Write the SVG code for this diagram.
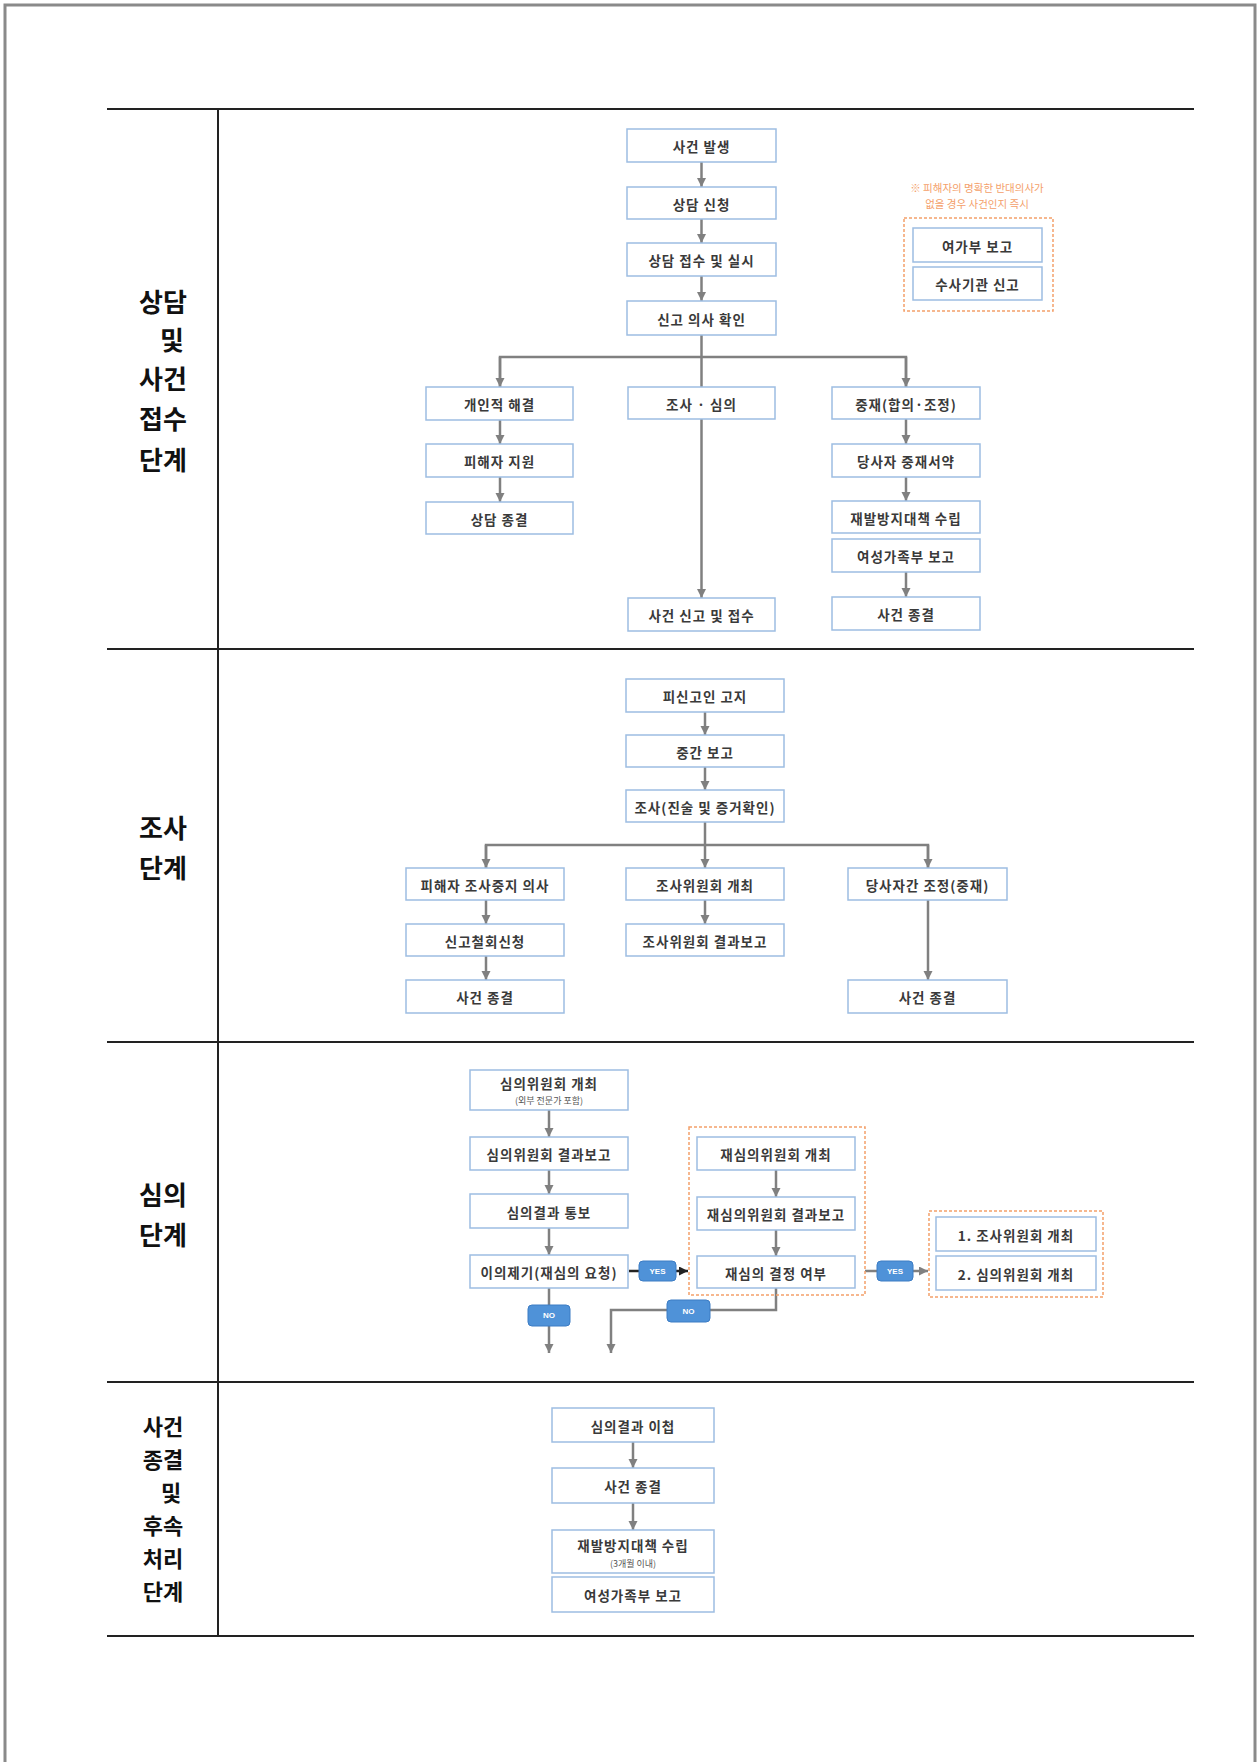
<svg xmlns="http://www.w3.org/2000/svg" width="1259" height="1762" viewBox="0 0 1259 1762">
<style>
.box{fill:#fff;stroke:#9dbde2;stroke-width:1.5}
.t{font-family:"Noto Sans CJK KR","Noto Sans",sans-serif;font-size:13.5px;font-weight:bold;fill:#3a3a3a;text-anchor:middle;dominant-baseline:central;letter-spacing:1px}
.ts{font-family:"Noto Sans CJK KR","Noto Sans",sans-serif;font-size:9px;fill:#555;text-anchor:middle;dominant-baseline:central}
.c{stroke:#808080;stroke-width:2.5;fill:none}
.ck{stroke:#222;stroke-width:2.5;fill:none}
.tbl{stroke:#222;stroke-width:2;fill:none}
.lbl{font-family:"Noto Sans CJK KR",serif;font-size:26px;font-weight:bold;fill:#111;text-anchor:middle;dominant-baseline:central}
.lbl2{font-family:"Noto Sans CJK KR",serif;font-size:22px;font-weight:bold;fill:#111;text-anchor:middle;dominant-baseline:central}
.org{fill:none;stroke:#f4a06a;stroke-width:1.5;stroke-dasharray:3 2}
.note{font-family:"Noto Sans CJK KR",sans-serif;font-size:10.5px;fill:#f4a06a;text-anchor:middle;dominant-baseline:central}
.badge{fill:#4f92d8;stroke:#3c7cc4;stroke-width:1}
.bt{font-family:"Liberation Sans",sans-serif;font-size:8px;font-weight:bold;fill:#fff;text-anchor:middle;dominant-baseline:central}
</style>
<defs>
<marker id="ah" markerUnits="userSpaceOnUse" markerWidth="10" markerHeight="10" refX="9" refY="4.5" orient="auto"><path d="M0,0 L9,4.5 L0,9 z" fill="#808080"/></marker>
<marker id="ahk" markerUnits="userSpaceOnUse" markerWidth="10" markerHeight="10" refX="9" refY="4.5" orient="auto"><path d="M0,0 L9,4.5 L0,9 z" fill="#222"/></marker>
</defs>
<rect x="5" y="5" width="1250" height="1770" fill="#fff" stroke="#8a8a8a" stroke-width="3"/>

<g id="table">
<line class="tbl" x1="107" y1="109" x2="1194" y2="109"/>
<line class="tbl" x1="107" y1="649" x2="1194" y2="649"/>
<line class="tbl" x1="107" y1="1042" x2="1194" y2="1042"/>
<line class="tbl" x1="107" y1="1382" x2="1194" y2="1382"/>
<line class="tbl" x1="107" y1="1636" x2="1194" y2="1636"/>
<line class="tbl" x1="218" y1="109" x2="218" y2="1636"/>
</g>

<g id="labels">
<text class="lbl" x="163" y="300">상담</text>
<text class="lbl" x="172" y="338">및</text>
<text class="lbl" x="163" y="377">사건</text>
<text class="lbl" x="163" y="417">접수</text>
<text class="lbl" x="163" y="458">단계</text>
<text class="lbl" x="163" y="826">조사</text>
<text class="lbl" x="163" y="866">단계</text>
<text class="lbl" x="163" y="1193">심의</text>
<text class="lbl" x="163" y="1233">단계</text>
<text class="lbl2" x="163" y="1425">사건</text>
<text class="lbl2" x="163" y="1458">종결</text>
<text class="lbl2" x="171" y="1491">및</text>
<text class="lbl2" x="163" y="1524">후속</text>
<text class="lbl2" x="163" y="1557">처리</text>
<text class="lbl2" x="163" y="1590">단계</text>
</g>

<g id="connectors">
<line class="c" x1="701.5" y1="162" x2="701.5" y2="187" marker-end="url(#ah)"/>
<line class="c" x1="701.5" y1="219" x2="701.5" y2="243" marker-end="url(#ah)"/>
<line class="c" x1="701.5" y1="276" x2="701.5" y2="301" marker-end="url(#ah)"/>
<line class="c" x1="701.5" y1="335" x2="701.5" y2="357"/>
<path class="c" d="M500,387 V357 H906 V387" stroke-linejoin="miter"/>
<line class="c" x1="500" y1="357" x2="500" y2="387" marker-end="url(#ah)"/>
<line class="c" x1="906" y1="357" x2="906" y2="387" marker-end="url(#ah)"/>
<line class="c" x1="500" y1="420" x2="500" y2="444" marker-end="url(#ah)"/>
<line class="c" x1="500" y1="477" x2="500" y2="502" marker-end="url(#ah)"/>
<line class="c" x1="701.5" y1="357" x2="701.5" y2="598" marker-end="url(#ah)"/>
<line class="c" x1="906" y1="419" x2="906" y2="444" marker-end="url(#ah)"/>
<line class="c" x1="906" y1="477" x2="906" y2="501" marker-end="url(#ah)"/>
<line class="c" x1="906" y1="572" x2="906" y2="597" marker-end="url(#ah)"/>

<line class="c" x1="705" y1="712" x2="705" y2="735" marker-end="url(#ah)"/>
<line class="c" x1="705" y1="767" x2="705" y2="790" marker-end="url(#ah)"/>
<line class="c" x1="705" y1="822" x2="705" y2="868" marker-end="url(#ah)"/>
<path class="c" d="M486,868 V845 H928 V868"/>
<line class="c" x1="486" y1="845" x2="486" y2="868" marker-end="url(#ah)"/>
<line class="c" x1="928" y1="845" x2="928" y2="868" marker-end="url(#ah)"/>
<line class="c" x1="486" y1="900" x2="486" y2="924" marker-end="url(#ah)"/>
<line class="c" x1="486" y1="956" x2="486" y2="980" marker-end="url(#ah)"/>
<line class="c" x1="705" y1="900" x2="705" y2="924" marker-end="url(#ah)"/>
<line class="c" x1="928" y1="900" x2="928" y2="980" marker-end="url(#ah)"/>

<line class="c" x1="549" y1="1110" x2="549" y2="1137" marker-end="url(#ah)"/>
<line class="c" x1="549" y1="1170" x2="549" y2="1194" marker-end="url(#ah)"/>
<line class="c" x1="549" y1="1228" x2="549" y2="1255" marker-end="url(#ah)"/>
<line class="c" x1="549" y1="1288" x2="549" y2="1353" marker-end="url(#ah)"/>
<line class="ck" x1="629" y1="1271" x2="688" y2="1271" marker-end="url(#ahk)"/>
<line class="c" x1="776" y1="1170" x2="776" y2="1197" marker-end="url(#ah)"/>
<line class="c" x1="776" y1="1230" x2="776" y2="1256" marker-end="url(#ah)"/>
<path class="c" d="M776,1288 V1310 H611 V1353" marker-end="url(#ah)"/>
<line class="c" x1="865" y1="1271" x2="928" y2="1271" marker-end="url(#ah)"/>

<line class="c" x1="633" y1="1442" x2="633" y2="1468" marker-end="url(#ah)"/>
<line class="c" x1="633" y1="1503" x2="633" y2="1530" marker-end="url(#ah)"/>
</g>

<g id="n-a1"><rect class="box" x="627" y="129" width="149" height="33"/><text class="t" x="701.5" y="146">사건 발생</text></g>
<g id="n-a2"><rect class="box" x="627" y="187" width="149" height="32"/><text class="t" x="701.5" y="203.5">상담 신청</text></g>
<g id="n-a3"><rect class="box" x="627" y="243" width="149" height="33"/><text class="t" x="701.5" y="260">상담 접수 및 실시</text></g>
<g id="n-a4"><rect class="box" x="627" y="301" width="149" height="34"/><text class="t" x="701.5" y="318.5">신고 의사 확인</text></g>

<g id="n-note">
<text class="note" x="977" y="187">※ 피해자의 명확한 반대의사가</text>
<text class="note" x="977" y="203">없을 경우 사건인지 즉시</text>
<rect class="org" x="904" y="218" width="149" height="93"/>
</g>
<g id="n-e1"><rect class="box" x="913" y="228" width="129" height="34"/><text class="t" x="977.5" y="245.5">여가부 보고</text></g>
<g id="n-e2"><rect class="box" x="913" y="267" width="129" height="33"/><text class="t" x="977.5" y="284">수사기관 신고</text></g>

<g id="n-b1"><rect class="box" x="426" y="387" width="147" height="33"/><text class="t" x="499.5" y="404">개인적 해결</text></g>
<g id="n-b2"><rect class="box" x="426" y="444" width="147" height="33"/><text class="t" x="499.5" y="461">피해자 지원</text></g>
<g id="n-b3"><rect class="box" x="426" y="502" width="147" height="32"/><text class="t" x="499.5" y="518.5">상담 종결</text></g>
<g id="n-c1"><rect class="box" x="628" y="387" width="147" height="32"/><text class="t" x="701.5" y="403.5">조사 · 심의</text></g>
<g id="n-c2"><rect class="box" x="628" y="598" width="147" height="33"/><text class="t" x="701.5" y="615">사건 신고 및 접수</text></g>
<g id="n-d1"><rect class="box" x="832" y="387" width="148" height="32"/><text class="t" x="906" y="403.5">중재(합의·조정)</text></g>
<g id="n-d2"><rect class="box" x="832" y="444" width="148" height="33"/><text class="t" x="906" y="461">당사자 중재서약</text></g>
<g id="n-d3"><rect class="box" x="832" y="501" width="148" height="32"/><text class="t" x="906" y="517.5">재발방지대책 수립</text></g>
<g id="n-d4"><rect class="box" x="832" y="539" width="148" height="33"/><text class="t" x="906" y="556">여성가족부 보고</text></g>
<g id="n-d5"><rect class="box" x="832" y="597" width="148" height="33"/><text class="t" x="906" y="614">사건 종결</text></g>

<g id="n-f1"><rect class="box" x="626" y="679" width="158" height="33"/><text class="t" x="705" y="696">피신고인 고지</text></g>
<g id="n-f2"><rect class="box" x="626" y="735" width="158" height="32"/><text class="t" x="705" y="751.5">중간 보고</text></g>
<g id="n-f3"><rect class="box" x="626" y="790" width="158" height="32"/><text class="t" x="705" y="806.5">조사(진술 및 증거확인)</text></g>
<g id="n-g1"><rect class="box" x="406" y="868" width="158" height="32"/><text class="t" x="485" y="884.5">피해자 조사중지 의사</text></g>
<g id="n-g2"><rect class="box" x="406" y="924" width="158" height="32"/><text class="t" x="485" y="940.5">신고철회신청</text></g>
<g id="n-g3"><rect class="box" x="406" y="980" width="158" height="33"/><text class="t" x="485" y="997">사건 종결</text></g>
<g id="n-h1"><rect class="box" x="626" y="868" width="158" height="32"/><text class="t" x="705" y="884.5">조사위원회 개최</text></g>
<g id="n-h2"><rect class="box" x="626" y="924" width="158" height="32"/><text class="t" x="705" y="940.5">조사위원회 결과보고</text></g>
<g id="n-i1"><rect class="box" x="848" y="868" width="159" height="32"/><text class="t" x="927.5" y="884.5">당사자간 조정(중재)</text></g>
<g id="n-i2"><rect class="box" x="848" y="980" width="159" height="33"/><text class="t" x="927.5" y="997">사건 종결</text></g>

<g id="n-j1"><rect class="box" x="470" y="1070" width="158" height="40"/><text class="t" x="549" y="1083">심의위원회 개최</text><text class="ts" x="549" y="1100">(외부 전문가 포함)</text></g>
<g id="n-j2"><rect class="box" x="470" y="1137" width="158" height="33"/><text class="t" x="549" y="1154">심의위원회 결과보고</text></g>
<g id="n-j3"><rect class="box" x="470" y="1194" width="158" height="34"/><text class="t" x="549" y="1211.5">심의결과 통보</text></g>
<g id="n-j4"><rect class="box" x="470" y="1255" width="158" height="33"/><text class="t" x="549" y="1272">이의제기(재심의 요청)</text></g>
<g id="b-no1"><rect class="badge" x="528" y="1305" width="42" height="21" rx="4"/><text class="bt" x="549" y="1315.5">NO</text></g>
<g id="b-yes1"><rect class="badge" x="639" y="1261" width="37" height="20" rx="4"/><text class="bt" x="657.5" y="1271">YES</text></g>
<g id="n-k"><rect class="org" x="689" y="1127" width="176" height="168"/></g>
<g id="n-k1"><rect class="box" x="697" y="1137" width="158" height="33"/><text class="t" x="776" y="1154">재심의위원회 개최</text></g>
<g id="n-k2"><rect class="box" x="697" y="1197" width="158" height="33"/><text class="t" x="776" y="1214">재심의위원회 결과보고</text></g>
<g id="n-k3"><rect class="box" x="697" y="1256" width="158" height="32"/><text class="t" x="776" y="1272.5">재심의 결정 여부</text></g>
<g id="b-no2"><rect class="badge" x="667" y="1300" width="43" height="22" rx="4"/><text class="bt" x="688.5" y="1311">NO</text></g>
<g id="b-yes2"><rect class="badge" x="877" y="1261" width="36" height="20" rx="4"/><text class="bt" x="895" y="1271">YES</text></g>
<g id="n-l"><rect class="org" x="929" y="1211" width="174" height="86"/></g>
<g id="n-l1"><rect class="box" x="936" y="1217" width="160" height="34"/><text class="t" x="1016" y="1234.5">1. 조사위원회 개최</text></g>
<g id="n-l2"><rect class="box" x="936" y="1256" width="160" height="34"/><text class="t" x="1016" y="1273.5">2. 심의위원회 개최</text></g>

<g id="n-m1"><rect class="box" x="552" y="1408" width="162" height="34"/><text class="t" x="633" y="1425.5">심의결과 이첩</text></g>
<g id="n-m2"><rect class="box" x="552" y="1468" width="162" height="35"/><text class="t" x="633" y="1486">사건 종결</text></g>
<g id="n-m3"><rect class="box" x="552" y="1530" width="162" height="43"/><text class="t" x="633" y="1545">재발방지대책 수립</text><text class="ts" x="633" y="1563">(3개월 이내)</text></g>
<g id="n-m4"><rect class="box" x="552" y="1577" width="162" height="35"/><text class="t" x="633" y="1595">여성가족부 보고</text></g>
</svg>
